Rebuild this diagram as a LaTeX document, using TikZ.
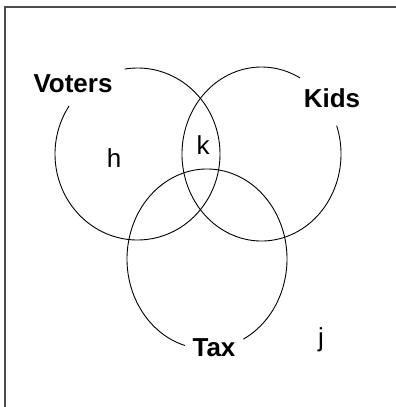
\documentclass[tikz,border=0pt]{standalone}
\usepackage{fontspec}
\setmainfont{Liberation Sans}
\begin{document}
\begin{tikzpicture}[x=1pt, y=-1pt, every node/.style={font=\fontsize{26}{30}\selectfont, inner sep=0pt, anchor=base},set/.style={font=\fontsize{26}{30}\selectfont\bfseries},ring/.style={line width=0.9pt},frame/.style={line width=1.6pt,black!70},]
\useasboundingbox (0,0) rectangle (396,407);
\draw[frame] (5,407) -- (5,7) -- (396,7);
\coordinate (vc) at (137.5,154);
\coordinate (kc) at (261.5,154);
\coordinate (tc) at (207,259);
\draw[ring] ([shift={(261:82.5 and 86)}]vc) arc[start angle=261, end angle=574, x radius=82.5, y radius=86];
\draw[ring] ([shift={(341:79.5 and 87)}]kc) arc[start angle=341, end angle=659, x radius=79.5, y radius=87];
\draw[ring] ([shift={(106:80 and 90)}]tc) arc[start angle=106, end angle=423, x radius=80, y radius=90];
\node[set] (voters) at (73,92) {Voters};
\node[set] (kids) at (332,107) {Kids};
\node[set] (tax) at (214,356) {Tax};
\node (h) at (114,167) {h};
\node (k) at (203,154) {k};
\node (j) at (321,346) {j};
\end{tikzpicture}
\end{document}
